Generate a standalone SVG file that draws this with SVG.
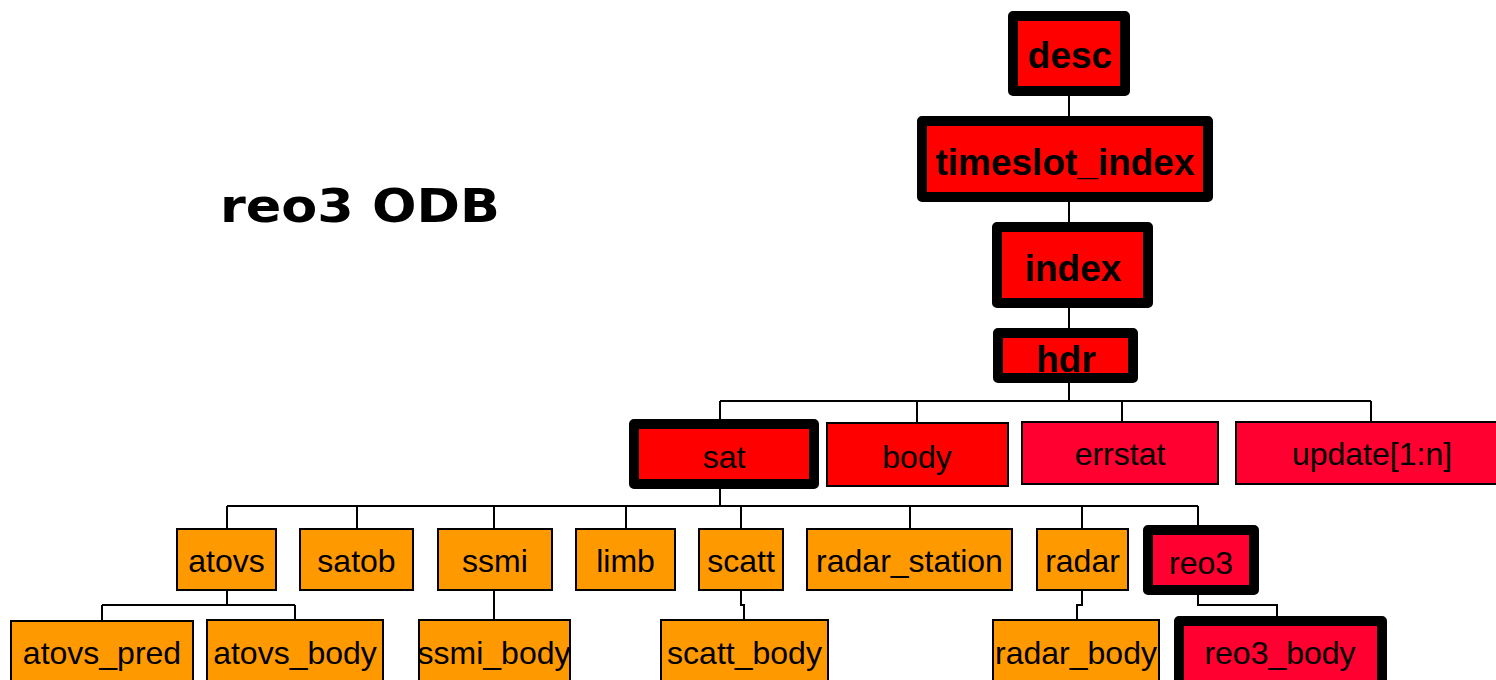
<svg xmlns="http://www.w3.org/2000/svg" width="1496" height="680" viewBox="0 0 1496 680">
  <style>
    .thick { stroke: #000; stroke-width: 10; stroke-linejoin: round; }
    .thin { stroke: #000; stroke-width: 2; }
    .red { fill: #ff0000; }
    .crimson { fill: #ff0030; }
    .orange { fill: #ff9900; }
    .lbl { font-family: "Liberation Sans", Arial, sans-serif; font-size: 32px; fill: #000; text-anchor: middle; }
    .lblb { font-family: "Liberation Sans", Arial, sans-serif; font-size: 37px; font-weight: bold; fill: #000; text-anchor: middle; }
    .title { font-family: "DejaVu Sans", sans-serif; font-size: 46px; font-weight: bold; fill: #000; }
    .wire { fill: none; stroke: #000; stroke-width: 2; }
  </style>
  <rect width="1496" height="680" fill="#fff"/>

  <text class="title" x="220" y="222" textLength="280" lengthAdjust="spacingAndGlyphs">reo3 ODB</text>

  <!-- tree links -->
  <g id="connectors">
    <path class="wire" d="M1069 96 V401"/>
    <path class="wire" d="M720 401 H1371 M720 401 V419 M917 401 V423 M1122 401 V422 M1371 401 V422"/>
    <path class="wire" d="M720 489 V506"/>
    <path class="wire" d="M227 506 H1198 M227 506 V529 M357 506 V529 M494 506 V529 M626 506 V529 M741 506 V529 M910 506 V529 M1082 506 V529 M1198 506 V525"/>
    <path class="wire" d="M227 590 V605 M102 605 H295 M102 605 V621 M295 605 V620"/>
    <path class="wire" d="M494 590 V620"/>
    <path class="wire" d="M741 590 V605 H744 V620"/>
    <path class="wire" d="M1082 590 V605 H1077 V620"/>
    <path class="wire" d="M1198 595 V605 H1277 V616"/>
  </g>

  <!-- top chain -->
  <g id="desc">
    <rect class="thick red" x="1013" y="16" width="112" height="75"/>
    <text class="lblb" x="1070" y="68">desc</text>
  </g>
  <g id="timeslot_index">
    <rect class="thick red" x="922" y="121" width="286" height="76"/>
    <text class="lblb" x="1065" y="175">timeslot_index</text>
  </g>
  <g id="index">
    <rect class="thick red" x="997" y="227" width="151" height="76"/>
    <text class="lblb" x="1073" y="281">index</text>
  </g>
  <g id="hdr">
    <rect class="thick red" x="998" y="333" width="135" height="45"/>
    <text class="lblb" x="1066" y="372">hdr</text>
  </g>

  <!-- hdr children -->
  <g id="sat">
    <rect class="thick red" x="634" y="424" width="180" height="60"/>
    <text class="lbl" x="724" y="468">sat</text>
  </g>
  <g id="body">
    <rect class="thin red" x="827" y="423" width="181" height="63"/>
    <text class="lbl" x="917" y="468">body</text>
  </g>
  <g id="errstat">
    <rect class="thin crimson" x="1022" y="422" width="196" height="62"/>
    <text class="lbl" x="1120" y="465">errstat</text>
  </g>
  <g id="update">
    <rect class="thin crimson" x="1236" y="422" width="280" height="62"/>
    <text class="lbl" x="1372" y="465">update[1:n]</text>
  </g>

  <!-- sat children -->
  <g id="atovs">
    <rect class="thin orange" x="177" y="529" width="99" height="61"/>
    <text class="lbl" x="226.5" y="572">atovs</text>
  </g>
  <g id="satob">
    <rect class="thin orange" x="300" y="529" width="113" height="61"/>
    <text class="lbl" x="356.5" y="572">satob</text>
  </g>
  <g id="ssmi">
    <rect class="thin orange" x="438" y="529" width="114" height="61"/>
    <text class="lbl" x="495" y="572">ssmi</text>
  </g>
  <g id="limb">
    <rect class="thin orange" x="576" y="529" width="99" height="61"/>
    <text class="lbl" x="625.5" y="572">limb</text>
  </g>
  <g id="scatt">
    <rect class="thin orange" x="699" y="529" width="84" height="61"/>
    <text class="lbl" x="741" y="572">scatt</text>
  </g>
  <g id="radar_station">
    <rect class="thin orange" x="807" y="529" width="205" height="61"/>
    <text class="lbl" x="909.5" y="572">radar_station</text>
  </g>
  <g id="radar">
    <rect class="thin orange" x="1037" y="529" width="91" height="61"/>
    <text class="lbl" x="1082.5" y="572">radar</text>
  </g>
  <g id="reo3">
    <rect class="thick crimson" x="1148" y="530" width="106" height="60"/>
    <text class="lbl" x="1201" y="574">reo3</text>
  </g>

  <!-- bottom row -->
  <g id="atovs_pred">
    <rect class="thin orange" x="11" y="621" width="182" height="70"/>
    <text class="lbl" x="102" y="664">atovs_pred</text>
  </g>
  <g id="atovs_body">
    <rect class="thin orange" x="207" y="620" width="176" height="70"/>
    <text class="lbl" x="295" y="664">atovs_body</text>
  </g>
  <g id="ssmi_body">
    <rect class="thin orange" x="419" y="620" width="151" height="70"/>
    <text class="lbl" x="494" y="664">ssmi_body</text>
  </g>
  <g id="scatt_body">
    <rect class="thin orange" x="661" y="620" width="167" height="70"/>
    <text class="lbl" x="744.5" y="664">scatt_body</text>
  </g>
  <g id="radar_body">
    <rect class="thin orange" x="993" y="620" width="166" height="70"/>
    <text class="lbl" x="1076" y="664">radar_body</text>
  </g>
  <g id="reo3_body">
    <rect class="thick crimson" x="1179" y="621" width="203" height="80"/>
    <text class="lbl" x="1280" y="664">reo3_body</text>
  </g>
</svg>
